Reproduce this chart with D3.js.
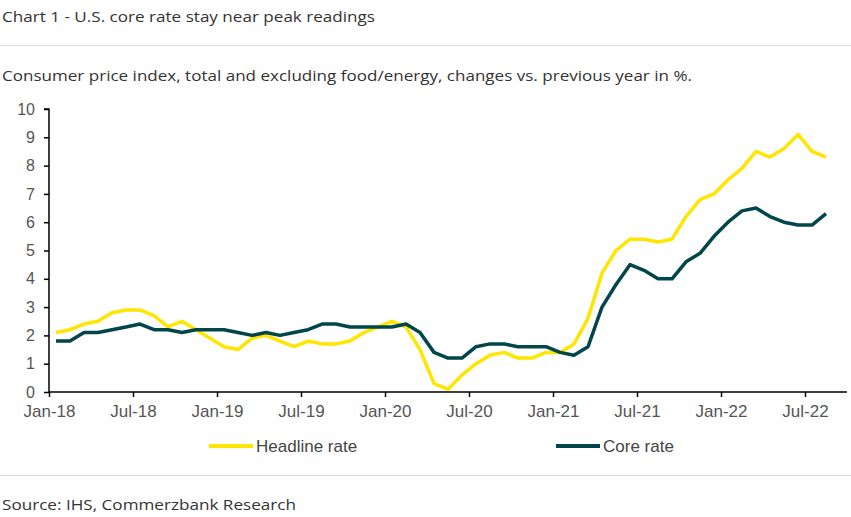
<!DOCTYPE html>
<html>
<head>
<meta charset="utf-8">
<script src="https://cdn.jsdelivr.net/npm/d3@7"></script>
<style>
  html, body { margin: 0; padding: 0; background: #fff; }
  svg { display: block; }
</style>
</head>
<body>
<svg id="chart" width="851" height="517"></svg>
<script>
const months = [
  "Jan-18","Feb-18","Mar-18","Apr-18","May-18","Jun-18","Jul-18","Aug-18","Sep-18","Oct-18","Nov-18","Dec-18",
  "Jan-19","Feb-19","Mar-19","Apr-19","May-19","Jun-19","Jul-19","Aug-19","Sep-19","Oct-19","Nov-19","Dec-19",
  "Jan-20","Feb-20","Mar-20","Apr-20","May-20","Jun-20","Jul-20","Aug-20","Sep-20","Oct-20","Nov-20","Dec-20",
  "Jan-21","Feb-21","Mar-21","Apr-21","May-21","Jun-21","Jul-21","Aug-21","Sep-21","Oct-21","Nov-21","Dec-21",
  "Jan-22","Feb-22","Mar-22","Apr-22","May-22","Jun-22","Jul-22","Aug-22"
];
const headline = [
  2.1,2.2,2.4,2.5,2.8,2.9,2.9,2.7,2.3,2.5,2.2,1.9,
  1.6,1.5,1.9,2.0,1.8,1.6,1.8,1.7,1.7,1.8,2.1,2.3,
  2.5,2.3,1.5,0.3,0.1,0.6,1.0,1.3,1.4,1.2,1.2,1.4,
  1.4,1.7,2.6,4.2,5.0,5.4,5.4,5.3,5.4,6.2,6.8,7.0,
  7.5,7.9,8.5,8.3,8.6,9.1,8.5,8.3
];
const core = [
  1.8,1.8,2.1,2.1,2.2,2.3,2.4,2.2,2.2,2.1,2.2,2.2,
  2.2,2.1,2.0,2.1,2.0,2.1,2.2,2.4,2.4,2.3,2.3,2.3,
  2.3,2.4,2.1,1.4,1.2,1.2,1.6,1.7,1.7,1.6,1.6,1.6,
  1.4,1.3,1.6,3.0,3.8,4.5,4.3,4.0,4.0,4.6,4.9,5.5,
  6.0,6.4,6.5,6.2,6.0,5.9,5.9,6.3
];
const tickLabels = ["Jan-18","Jul-18","Jan-19","Jul-19","Jan-20","Jul-20","Jan-21","Jul-21","Jan-22","Jul-22"];
const yTicks = [0,1,2,3,4,5,6,7,8,9,10];
const seriesNames = ["Headline rate", "Core rate"];
const colors = ["#FFE500", "#00464A"];

const svg = d3.select("#chart");
const textFont = "'Open Sans', 'Noto Sans', sans-serif";
const axisFont = "'Liberation Sans', Arial, sans-serif";

function headerText(str, yPos, len) {
  svg.append("text").attr("x", 2).attr("y", yPos)
    .style("font-family", textFont).style("font-size", "15px").attr("fill", "#333")
    .attr("textLength", len).attr("lengthAdjust", "spacingAndGlyphs")
    .text(str);
}

// header
headerText("Chart 1 - U.S. core rate stay near peak readings", 22, 373);
svg.append("line").attr("x1", 0).attr("x2", 851).attr("y1", 45.5).attr("y2", 45.5)
  .attr("stroke", "#dcdcdc").attr("stroke-width", 1);
headerText("Consumer price index, total and excluding food/energy, changes vs. previous year in %.", 81, 690);

// scales
const x = d3.scaleLinear().domain([0, 57]).range([49, 847]);
const y = d3.scaleLinear().domain([0, 10]).range([392, 109]);

// y axis
const yAxis = d3.axisLeft(y).tickValues(yTicks).tickSize(5).tickPadding(9).tickFormat(d3.format("d"));
const gy = svg.append("g").attr("transform", "translate(49,0)").call(yAxis);
gy.select(".domain").attr("stroke", "#000").attr("stroke-width", 1.5).attr("d", `M-5,${y(10)}H0V${y(0)}`);
gy.selectAll(".tick line").attr("stroke", "#000").attr("stroke-width", 1.5);
gy.selectAll(".tick text").style("font-family", axisFont).style("font-size", "16px").attr("fill", "#555");

// x axis
const tickIdx = tickLabels.map(l => months.indexOf(l));
const xAxis = d3.axisBottom(x).tickValues(tickIdx).tickSize(5).tickPadding(8)
  .tickFormat((d) => months[d]);
const gx = svg.append("g").attr("transform", "translate(0,392)").call(xAxis);
gx.select(".domain").attr("stroke", "#000").attr("stroke-width", 1.5).attr("d", `M${x(0)},0H${x(57)}`);
gx.selectAll(".tick line").attr("stroke", "#000").attr("stroke-width", 1.5);
gx.selectAll(".tick text").style("font-family", axisFont).style("font-size", "17px").attr("fill", "#555");

// lines
const line = d3.line().x((d, i) => x(i + 0.5)).y(d => y(d)).curve(d3.curveLinear);
[headline, core].forEach((s, k) => {
  svg.append("path").datum(s).attr("d", line)
    .attr("fill", "none").attr("stroke", colors[k]).attr("stroke-width", 3.5)
    .attr("stroke-linejoin", "round").attr("stroke-linecap", "butt");
});

// legend
const legendX = [209, 556];
seriesNames.forEach((n, k) => {
  const g = svg.append("g").attr("transform", `translate(${legendX[k]},446)`);
  g.append("line").attr("x1", 0).attr("x2", 44).attr("y1", 0).attr("y2", 0)
    .attr("stroke", colors[k]).attr("stroke-width", 4);
  g.append("text").attr("x", 47).attr("y", 0).attr("dy", "0.35em")
    .style("font-family", axisFont).style("font-size", "17px").attr("fill", "#444").text(n);
});

// footer
svg.append("line").attr("x1", 0).attr("x2", 851).attr("y1", 475.5).attr("y2", 475.5)
  .attr("stroke", "#dcdcdc").attr("stroke-width", 1);
headerText("Source: IHS, Commerzbank Research", 510, 294);
</script>
</body>
</html>
